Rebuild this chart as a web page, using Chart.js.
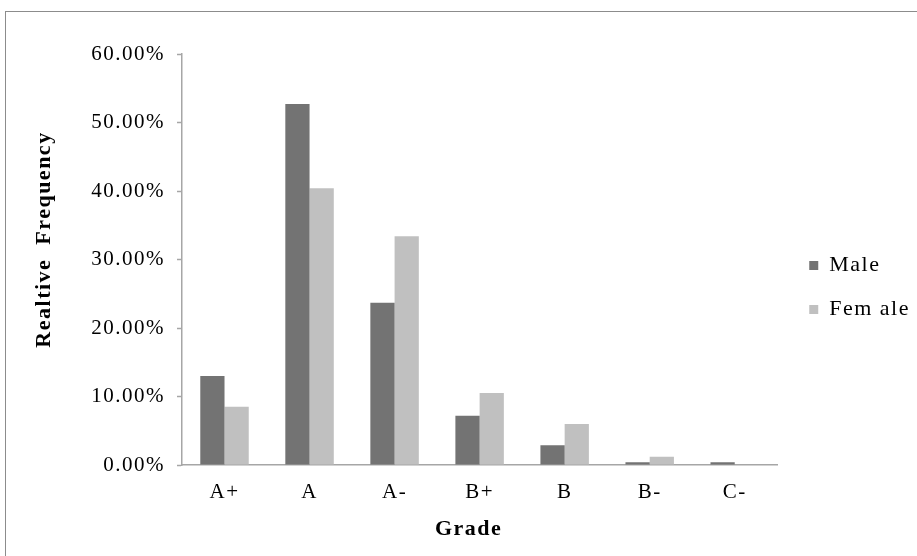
<!DOCTYPE html>
<html>
<head>
<meta charset="utf-8">
<script src="https://cdn.jsdelivr.net/npm/chart.js@4"></script>
<style>
  html, body { margin: 0; padding: 0; background: #fff; }
  #wrap { position: relative; width: 917px; height: 556px; overflow: hidden; }
  #frame { position: absolute; left: 5px; top: 11px; width: 930px; height: 560px; border: 1px solid #8c8c8c; }
  canvas { position: absolute; left: 0; top: 0; }
</style>
</head>
<body>
<div id="wrap">
  <div id="frame"></div>
  <canvas id="grade-chart" width="917" height="556"></canvas>
</div>
<script>
const grades = ['A+', 'A', 'A-', 'B+', 'B', 'B-', 'C-'];
const maleValues = [13.0, 52.7, 23.7, 7.2, 2.9, 0.4, 0.4];
const femaleValues = [8.5, 40.4, 33.4, 10.5, 6.0, 1.2, 0];
const yTicks = [0, 10, 20, 30, 40, 50, 60];

const serif = '"Liberation Serif", "Times New Roman", serif';

// shift a scale's title by dx/dy without touching the rest of the scale
function shiftTitle(scale, dx, dy) {
  if (scale._titleShifted) return;
  const orig = scale.drawTitle.bind(scale);
  scale.drawTitle = function() {
    this.ctx.save();
    this.ctx.translate(dx, dy);
    orig();
    this.ctx.restore();
  };
  scale._titleShifted = true;
}

const layoutPlugin = {
  id: 'tweaks',
  // the source text is set wide, so spread the letters a bit
  beforeUpdate(chart) { chart.ctx.letterSpacing = '1.5px'; },
  beforeDraw(chart) { chart.ctx.letterSpacing = '1.5px'; },
  afterLayout(chart) {
    const lg = chart.legend;
    lg.left += 10; lg.right += 10;
    lg.top -= 13; lg.bottom -= 13;
    shiftTitle(chart.scales.y, 0, -20);
    shiftTitle(chart.scales.x, -11, 0);
  },
};

const ctx = document.getElementById('grade-chart');
new Chart(ctx, {
  type: 'bar',
  data: {
    labels: grades,
    datasets: [
      {
        label: 'Male',
        data: maleValues,
        backgroundColor: '#737373',
        borderWidth: 0,
        categoryPercentage: 0.57,
        barPercentage: 1.0,
      },
      {
        label: 'Fem ale',
        data: femaleValues,
        backgroundColor: '#c0c0c0',
        borderWidth: 0,
        categoryPercentage: 0.57,
        barPercentage: 1.0,
      },
    ],
  },
  plugins: [layoutPlugin],
  options: {
    responsive: false,
    animation: false,
    layout: { padding: { left: 30, top: 54, right: 7, bottom: 9 } },
    plugins: {
      tooltip: { enabled: false },
      legend: {
        position: 'right',
        labels: {
          color: '#000',
          font: { family: serif, size: 22 },
          boxWidth: 9,
          boxHeight: 9,
          padding: 22,
        },
      },
    },
    scales: {
      x: {
        grid: { display: false, drawTicks: false },
        border: { color: '#a6a6a6', width: 1.5 },
        ticks: { color: '#000', font: { family: serif, size: 21 }, padding: 15 },
        title: {
          display: true,
          text: 'Grade',
          color: '#000',
          font: { family: serif, size: 22, weight: 'bold' },
        },
        afterFit: (scale) => { scale.height = 82; },
      },
      y: {
        min: 0,
        max: 60,
        afterBuildTicks: (scale) => { scale.ticks = yTicks.map((v) => ({ value: v })); },
        grid: { display: true, drawOnChartArea: false, drawTicks: true, tickLength: 5, tickColor: '#a6a6a6', tickWidth: 1.5 },
        border: { color: '#a6a6a6', width: 1.5 },
        ticks: {
          color: '#000',
          font: { family: serif, size: 21 },
          padding: 12,
          callback: function(value) {
            return value.toFixed(2) + '%';
          },
        },
        title: {
          display: true,
          text: 'Realtive  Frequency',
          color: '#000',
          font: { family: serif, size: 22, weight: 'bold' },
          padding: { top: 1, bottom: 0 },
        },
        afterFit: (scale) => { scale.width = 152; },
      },
    },
  },
});
</script>
</body>
</html>
